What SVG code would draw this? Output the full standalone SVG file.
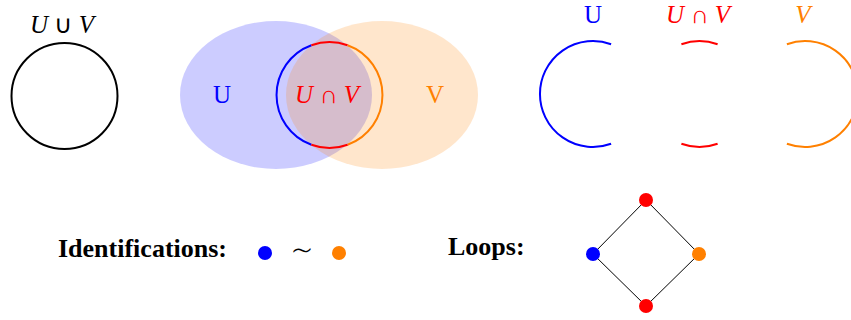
<svg xmlns="http://www.w3.org/2000/svg" width="851" height="320" viewBox="0 0 851 320">
<style>
.t{font-family:"Liberation Serif","Times New Roman",serif;font-size:25px}
.i{font-style:italic}
.b{font-weight:bold;font-size:26px}
.s{font-family:"DejaVu Sans",sans-serif;font-weight:200}
.c{fill:none;stroke-width:2}
.e{stroke:#000;stroke-width:1}
</style>
<rect width="851" height="320" fill="#fff"/>
<g id="union">
<circle class="c" cx="64.5" cy="96" r="53" stroke="#000"/>
<text class="t" x="62" y="33" text-anchor="middle"><tspan class="i">U</tspan> <tspan class="s">∪</tspan> <tspan class="i">V</tspan></text>
</g>
<g id="venn">
<ellipse cx="276" cy="95" rx="96" ry="74" fill="#0000ff" fill-opacity="0.2"/>
<ellipse cx="382" cy="95" rx="96" ry="74" fill="#ff8000" fill-opacity="0.2"/>
<path class="c" stroke="#0000ff" d="M311.4,45.2 A53,53 0 0 0 311.4,144.8"/>
<path class="c" stroke="#ff0000" d="M311.4,45.2 A53,53 0 0 1 347.6,45.2"/>
<path class="c" stroke="#ff8000" d="M347.6,45.2 A53,53 0 0 1 347.6,144.8"/>
<path class="c" stroke="#ff0000" d="M347.6,144.8 A53,53 0 0 1 311.4,144.8"/>
<text class="t" x="222" y="103" text-anchor="middle" fill="#0000ff">U</text>
<text class="t" x="327" y="103" text-anchor="middle" fill="#ff0000"><tspan class="i">U</tspan> <tspan class="s">∩</tspan> <tspan class="i">V</tspan></text>
<text class="t" x="435" y="103" text-anchor="middle" fill="#ff8000">V</text>
</g>
<g id="pieces">
<path class="c" stroke="#0000ff" d="M611.1,44.2 A53,53 0 1 0 611.1,143.8"/>
<path class="c" stroke="#ff0000" d="M681.4,44.2 A53,53 0 0 1 717.6,44.2"/>
<path class="c" stroke="#ff0000" d="M717.6,143.8 A53,53 0 0 1 681.4,143.8"/>
<path class="c" stroke="#ff8000" d="M786.9,44.2 A53,53 0 1 1 786.9,143.8"/>
<text class="t" x="593" y="23" text-anchor="middle" fill="#0000ff">U</text>
<text class="t" x="698" y="23" text-anchor="middle" fill="#ff0000"><tspan class="i">U</tspan> <tspan class="s">∩</tspan> <tspan class="i">V</tspan></text>
<text class="t i" x="803" y="23" text-anchor="middle" fill="#ff8000">V</text>
</g>
<g id="identifications">
<text class="t b" x="58" y="257">Identifications:</text>
<circle cx="265" cy="253" r="7" fill="#0000ff"/>
<text class="t s" x="302" y="263" text-anchor="middle" style="font-size:36px">∼</text>
<circle cx="339" cy="253" r="7" fill="#ff8000"/>
</g>
<g id="loops">
<text class="t b" x="448" y="255">Loops:</text>
<g id="edges">
<path class="e" d="M646,200 L593,254 L646,306 L699,254 Z" fill="none"/>
</g>
<circle cx="646" cy="200" r="7" fill="#ff0000"/>
<circle cx="593" cy="254" r="7" fill="#0000ff"/>
<circle cx="699" cy="254" r="7" fill="#ff8000"/>
<circle cx="646" cy="306" r="7" fill="#ff0000"/>
</g>
</svg>
